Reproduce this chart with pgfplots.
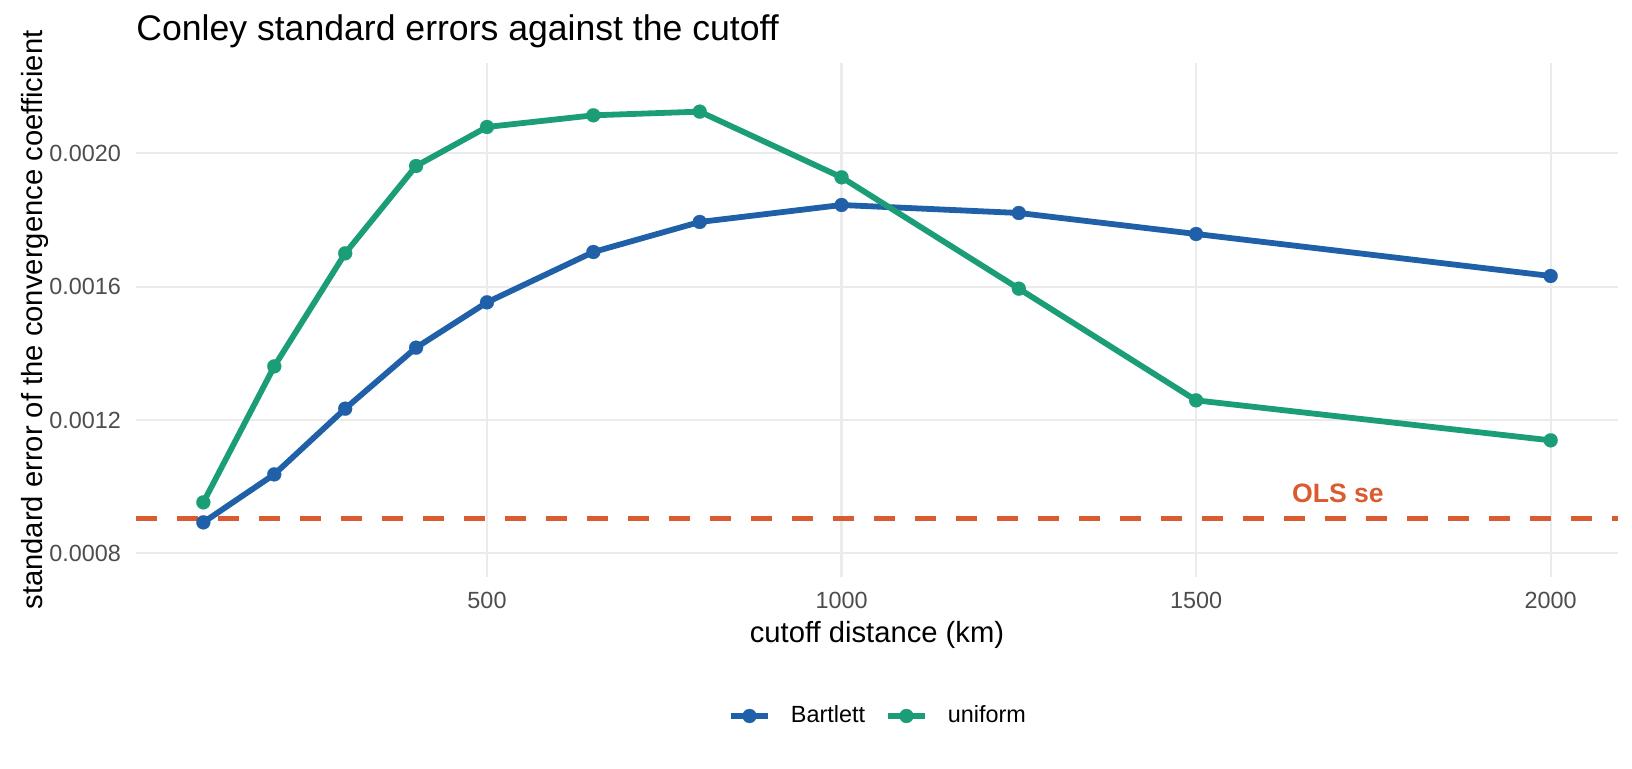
\documentclass[border=0pt]{standalone}
\usepackage{fontspec}
\setmainfont{Liberation Sans}
\usepackage{pgfplots}
\pgfplotsset{compat=1.18}
\definecolor{bart}{HTML}{1F60A8}
\definecolor{unif}{HTML}{1B9E77}
\definecolor{ols}{HTML}{D95B2F}
\definecolor{gridc}{HTML}{EBEBEB}
\definecolor{tickc}{HTML}{4D4D4D}
\begin{document}
\begin{tikzpicture}
\begin{axis}[
  at={(68pt,95.65pt)}, anchor=south west,
  scale only axis, width=741pt, height=256.7pt,
  xmin=5, xmax=2095, ymin=0.00073, ymax=0.00227,
  xtick={500,1000,1500,2000}, xticklabels={500,1000,1500,2000},
  ytick={0.0008,0.0012,0.0016,0.0020}, yticklabels={0.0008,0.0012,0.0016,0.0020},
  scaled y ticks=false, scaled x ticks=false,
  axis line style={draw=none}, major tick length=0pt,
  grid=major, major grid style={gridc, line width=1.1pt},
  tick label style={font=\fontsize{11.7}{14}\selectfont, text=tickc},
  xticklabel style={anchor=base, yshift=-15.8pt, inner sep=0pt},
  yticklabel style={anchor=east, xshift=-7.3pt, inner sep=0pt},
  xlabel={cutoff distance (km)},
  ylabel={standard error of the convergence coefficient},
  label style={font=\fontsize{14.6}{17}\selectfont},
  xlabel style={at={(axis description cs:0.5,-0.129)}, anchor=base, inner sep=0pt},
  ylabel style={at={(axis description cs:-0.0634,0.5)}, anchor=base, inner sep=0pt},
  legend style={at={(axis description cs:0.5,-0.2713)}, anchor=center, draw=none, fill=none,
    inner sep=0pt, legend columns=2, font=\fontsize{11.7}{14}\selectfont,
    nodes={inner sep=0pt},
    /tikz/every odd column/.append style={column sep=10pt},
    /tikz/every even column/.append style={column sep=10pt}},
  legend image code/.code={\draw[mark repeat=2, mark phase=2, #1] plot coordinates {(0pt,0pt) (9.25pt,0pt) (18.5pt,0pt)};},
  clip=false,
]
\addplot[forget plot, ols, line width=2.3pt, dash pattern=on 10.25pt off 10.25pt] coordinates {(5,0.000905) (2095,0.000905)};
\addplot[bart, line width=2.9pt, line join=round, mark=*, mark size=3.5pt, mark options={solid, fill=bart, draw=bart, line width=0.1pt}] coordinates {
(100,0.000893) (200,0.001037) (300,0.001234) (400,0.001417) (500,0.001553) (650,0.001704) (800,0.001794) (1000,0.001845) (1250,0.001821) (1500,0.001758) (2000,0.001632)};
\addlegendentry{Bartlett}
\addplot[unif, line width=2.9pt, line join=round, mark=*, mark size=3.5pt, mark options={solid, fill=unif, draw=unif, line width=0.1pt}] coordinates {
(100,0.000953) (200,0.001361) (300,0.001700) (400,0.001962) (500,0.002079) (650,0.002114) (800,0.002125) (1000,0.001928) (1250,0.001594) (1500,0.001259) (2000,0.001139)};
\addlegendentry{uniform}
\node[font=\bfseries\fontsize{13.3}{16}\selectfont, text=ols, inner sep=0pt] at (axis cs:1700,0.00098) {OLS se};
\end{axis}
\node[anchor=base west, font=\fontsize{17.8}{21}\selectfont, inner sep=0pt] at (68pt,363.7pt) {Conley standard errors against the cutoff};
\pgfresetboundingbox
\path[use as bounding box] (0,0) rectangle (816pt,384pt);
\end{tikzpicture}
\end{document}
